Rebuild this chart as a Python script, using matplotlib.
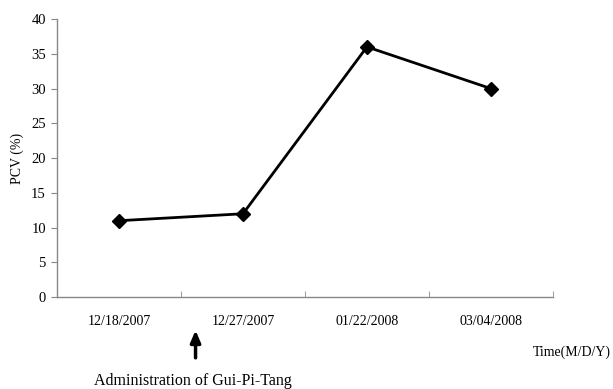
import numpy as np
import matplotlib.pyplot as plt

# dane
daty = ["12/18/2007", "12/27/2007", "01/22/2008", "03/04/2008"]
pcv = [11, 12, 36, 30]
y_ticki = [0, 5, 10, 15, 20, 25, 30, 35, 40]

plt.rcParams['font.family'] = ['Liberation Serif', 'DejaVu Serif']
plt.rcParams['font.size'] = 10

fig = plt.figure(figsize=(6.13, 3.89), dpi=100)
ax = fig.add_axes([0.093, 0.236, 0.809, 0.715])

x = np.arange(len(daty))
ax.plot(x, pcv, color="black", lw=2, marker="D", markersize=7)

ax.set_xlim(-0.5, len(daty) - 0.5)
ax.set_ylim(0, 40)
ax.set_yticks(y_ticki)
ax.set_xticks(x)
ax.set_xticklabels(daty)
ax.set_xticks(np.arange(len(daty)) + 0.5, minor=True)
ax.tick_params(axis="x", which="major", length=0, pad=13)
ax.tick_params(axis="x", which="minor", direction="in", length=4, color="#888888")
ax.tick_params(axis="y", direction="out", length=4, color="#888888", pad=4,
               labelsize=10.5)

for s in ["top", "right"]:
    ax.spines[s].set_visible(False)
for s in ["left", "bottom"]:
    ax.spines[s].set_color("#888888")
    ax.spines[s].set_linewidth(1)

ax.set_ylabel("PCV (%)", labelpad=5)

fig.text(0.997, 0.095, "Time(M/D/Y)", ha="right", va="center")

# strzalka z opisem
ax.annotate("", xy=(0.319, 0.158), xycoords="figure fraction",
            xytext=(0.319, 0.073), textcoords="figure fraction",
            arrowprops=dict(arrowstyle="-|>,head_width=0.3,head_length=0.7",
                            color="black", lw=2.5))
fig.text(0.314, 0.02, "Administration of Gui-Pi-Tang", ha="center", va="center",
         fontsize=11.5)

plt.savefig("out.png", dpi=100)
